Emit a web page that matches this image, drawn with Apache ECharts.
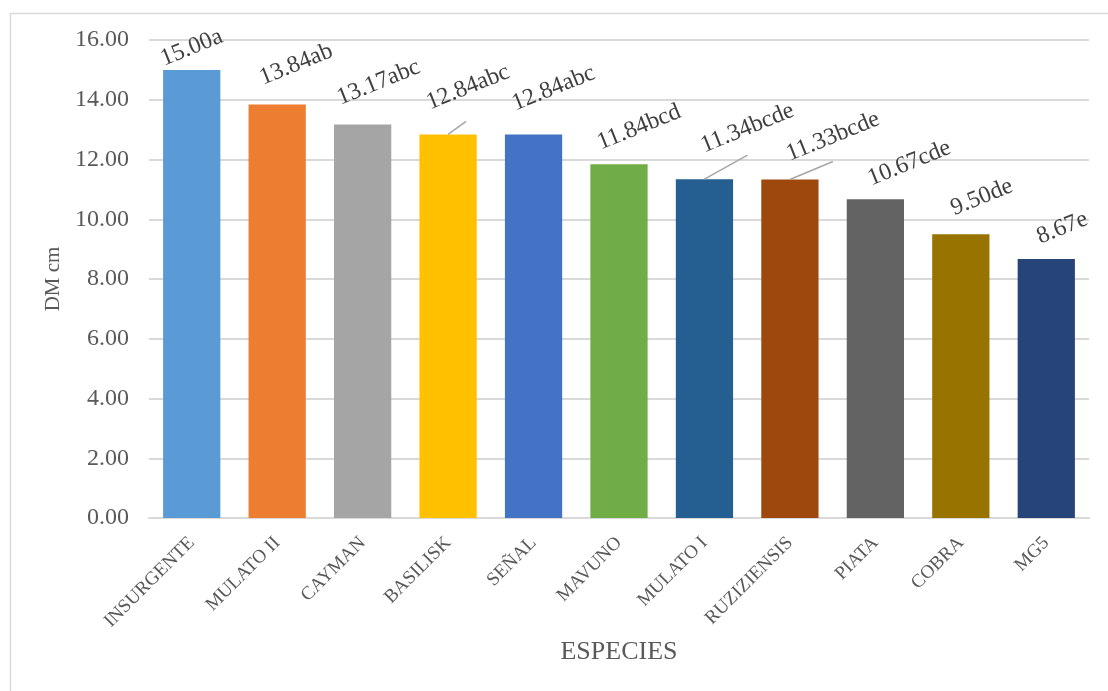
<!DOCTYPE html>
<html><head><meta charset="utf-8">
<script src="https://cdn.jsdelivr.net/npm/echarts@6/dist/echarts.min.js"></script>
<style>html,body{margin:0;padding:0;background:#fff}#c{width:1108px;height:691px}</style>
</head><body><div id="c"></div>
<script>
const categories = ['INSURGENTE','MULATO II','CAYMAN','BASILISK','SEÑAL','MAVUNO','MULATO I','RUZIZIENSIS','PIATA','COBRA','MG5'];
const values = [15.00, 13.84, 13.17, 12.84, 12.84, 11.84, 11.34, 11.33, 10.67, 9.50, 8.67];
const letters = ['a','ab','abc','abc','abc','bcd','bcde','bcde','cde','de','e'];
const yMin = 0, yMax = 16, yStep = 2;
const xTitle = 'ESPECIES';
const yTitle = 'DM cm';

// styling (not data)
const colors = ['#5B9BD5','#ED7D31','#A5A5A5','#FFC000','#4472C4','#70AD47','#255E91','#9E480E','#636363','#997300','#264478'];
const labelShift = [[0,-22],[19,-40],[16,-42],[20,-47],[20,-46],[20,-37],[43,-51],[43,-43],[34,-36],[21,-37],[16,-31]];
const leaderVec = {3:[18,-13], 6:[43,-24], 7:[43,-18]};

const FONT = "'Times New Roman','Liberation Serif',serif";
const chart = echarts.init(document.getElementById('c'), null, {renderer:'canvas'});

const barData = values.map((v,i)=>({value:v, itemStyle:{color:colors[i]}}));
const leaderData = Object.keys(leaderVec).map(k=>[+k, values[+k]]);

chart.setOption({
  animation:false,
  backgroundColor:'#fff',
  graphic:[{type:'rect', left:8, top:11, shape:{width:1200, height:800}, style:{fill:'none', stroke:'#D9D9D9', lineWidth:1.5}, silent:true, z:-10}],
  grid:{left:149, right:19, top:40, bottom:173, containLabel:false},
  xAxis:{
    type:'category', data:categories,
    name:xTitle, nameLocation:'middle', nameGap:121,
    nameTextStyle:{fontFamily:FONT, fontSize:26, color:'#595959'},
    axisLine:{show:true, lineStyle:{color:'#D9D9D9', width:2}},
    axisTick:{show:false},
    axisLabel:{rotate:45, interval:0, margin:22, fontFamily:FONT, fontSize:19, color:'#595959'}
  },
  yAxis:{
    type:'value', min:yMin, max:yMax, interval:yStep,
    name:yTitle, nameLocation:'middle', nameGap:84,
    nameTextStyle:{fontFamily:FONT, fontSize:21, color:'#595959'},
    axisLine:{show:false}, axisTick:{show:false},
    splitLine:{lineStyle:{color:'#D9D9D9', width:2}},
    axisLabel:{margin:20, fontFamily:FONT, fontSize:24, color:'#595959', formatter:v=>v.toFixed(2)}
  },
  series:[{
    type:'bar', data:barData, barCategoryGap:'33%',
    label:{show:true, position:'top', distance:0, align:'center', verticalAlign:'middle', rotate:22,
      fontFamily:FONT, fontSize:24, color:'#404040',
      formatter:p=>values[p.dataIndex].toFixed(2)+letters[p.dataIndex]},
    labelLayout:p=>{
      const r = p.rect, s = labelShift[p.dataIndex];
      return {x:r.x + r.width/2 + s[0], y:r.y + s[1], align:'center', verticalAlign:'middle', rotate:22};
    }
  },{
    type:'custom', data:leaderData, z:5, silent:true,
    renderItem:(params, api)=>{
      const i = api.value(0);
      const p = api.coord([i, api.value(1)]);
      const d = leaderVec[i];
      return {type:'line', shape:{x1:p[0], y1:p[1], x2:p[0]+d[0], y2:p[1]+d[1]}, style:{stroke:'#A6A6A6', lineWidth:1.5}};
    }
  }]
});
</script></body></html>
